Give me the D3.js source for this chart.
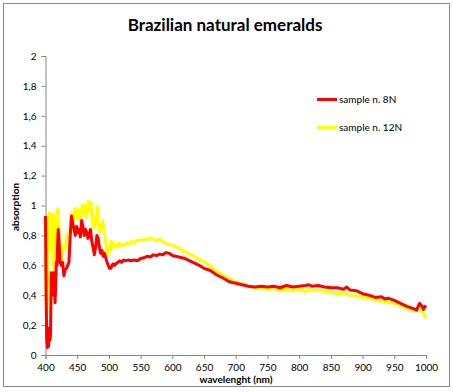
<!DOCTYPE html>
<html lang="en-US">
<head>
  <script src="https://d3js.org/d3.v7.min.js"></script>
  <style>
    body { margin: 0; background: #fff; }
    text { font-family: Lato, "Open Sans", sans-serif; fill: #000; }
  </style>
</head>
<body>

<svg width="453" height="392"></svg>

<script>
// sample n. 8N  [wavelength, absorption]
var red8N = [
  [400,0.93],[401,0.40],[402,0.10],[403,0.05],[405,0.06],[406,0.18],[407,0.10],[408,0.14],
  [409,0.55],[411,0.50],[412,0.40],[413,0.55],[414,0.45],[415,0.35],[416,0.45],[417,0.62],
  [418,0.60],[420,0.84],[421,0.78],[423,0.62],[425,0.60],[427,0.62],[429,0.53],[431,0.57],
  [433,0.58],[435,0.60],[437,0.62],[439,0.80],[441,0.93],[443,0.88],[445,0.84],[447,0.80],
  [449,0.86],[451,0.82],[453,0.84],[455,0.79],[457,0.90],[459,0.86],[461,0.80],[463,0.84],
  [465,0.82],[467,0.78],[469,0.80],[471,0.84],[473,0.76],[475,0.72],[477,0.67],[479,0.72],
  [481,0.80],[483,0.78],[485,0.72],[487,0.68],[489,0.70],[491,0.66],[493,0.68],[495,0.65],
  [497,0.62],[499,0.60],[501,0.58],[503,0.58],[505,0.60],[507,0.61],[509,0.60],[511,0.61],
  [514,0.62],[517,0.63],[520,0.62],[523,0.635],[526,0.63],[530,0.635],[535,0.63],[540,0.635],
  [545,0.63],[550,0.645],[555,0.65],[560,0.66],[565,0.655],[570,0.67],[575,0.665],[580,0.675],
  [585,0.67],[590,0.685],[595,0.68],[600,0.665],[610,0.655],[620,0.645],[630,0.625],[640,0.605],
  [650,0.58],[660,0.565],[670,0.535],[680,0.515],[690,0.49],[700,0.48],[710,0.47],[720,0.46],
  [730,0.455],[740,0.46],[750,0.455],[760,0.46],[770,0.45],[780,0.465],[790,0.455],[800,0.46],
  [810,0.465],[815,0.47],[820,0.46],[830,0.465],[840,0.455],[850,0.45],[860,0.45],[870,0.44],
  [875,0.455],[880,0.435],[890,0.43],[900,0.41],[910,0.40],[920,0.385],[930,0.39],[935,0.375],
  [940,0.38],[950,0.365],[960,0.345],[970,0.325],[980,0.31],[985,0.30],[990,0.345],[993,0.33],
  [996,0.305],[998,0.325],[1000,0.315]
];

// sample n. 12N
var yellow12N = [
  [400,0.67],[401,0.40],[402,0.27],[403,0.45],[404,0.75],[405,0.92],[406,0.95],[407,0.70],
  [408,0.93],[409,0.72],[410,0.94],[411,0.60],[412,0.94],[413,0.70],[414,0.55],[415,0.62],
  [416,0.90],[418,0.95],[420,0.98],[422,0.78],[424,0.70],[426,0.62],[428,0.72],[430,0.74],
  [432,0.72],[434,0.80],[436,0.82],[438,0.78],[440,0.92],[442,0.95],[444,0.90],[446,0.96],
  [448,0.98],[450,0.92],[452,0.97],[454,0.90],[456,0.95],[458,1.00],[460,0.94],[462,1.00],
  [464,0.92],[466,0.98],[468,1.03],[470,0.96],[472,1.02],[474,0.88],[476,0.85],[478,0.92],
  [480,0.88],[482,0.99],[484,0.86],[486,0.82],[488,0.86],[490,0.90],[492,0.84],[494,0.78],
  [496,0.72],[498,0.67],[500,0.68],[502,0.74],[504,0.76],[506,0.72],[508,0.75],[510,0.73],
  [513,0.72],[516,0.75],[519,0.73],[522,0.74],[525,0.735],[528,0.75],[532,0.745],[536,0.76],
  [540,0.75],[545,0.77],[550,0.765],[555,0.775],[560,0.77],[565,0.785],[570,0.775],[575,0.765],
  [580,0.775],[585,0.755],[590,0.745],[600,0.735],[610,0.715],[620,0.69],[630,0.67],[640,0.645],
  [650,0.625],[660,0.595],[670,0.56],[680,0.535],[690,0.51],[700,0.49],[710,0.475],[720,0.46],
  [730,0.45],[740,0.445],[750,0.44],[760,0.445],[770,0.435],[780,0.44],[790,0.43],[800,0.44],
  [810,0.425],[815,0.44],[820,0.43],[830,0.435],[840,0.425],[850,0.42],[860,0.41],[870,0.415],
  [880,0.40],[890,0.395],[900,0.385],[910,0.38],[920,0.37],[930,0.36],[940,0.355],[950,0.345],
  [960,0.33],[970,0.31],[980,0.30],[990,0.30],[995,0.29],[998,0.26],[1000,0.245]
];

var xTicks = [400,450,500,550,600,650,700,750,800,850,900,950,1000];
var yTicks = [0,0.2,0.4,0.6,0.8,1,1.2,1.4,1.6,1.8,2];
var seriesNames = ["sample n. 8N", "sample n. 12N"];
var seriesColors = ["#ff0000", "#ffff00"];

var svg = d3.select("svg");

svg.append("rect")
  .attr("x", 3.5).attr("y", 3.5)
  .attr("width", 446).attr("height", 383)
  .attr("fill", "#fff").attr("stroke", "#898989");

var x = d3.scaleLinear().domain([400, 1000]).range([45.5, 426]);
var y = d3.scaleLinear().domain([0, 2]).range([355, 56]);

var fmt = function(d) { return String(d).replace(".", ","); };

var xAxis = svg.append("g")
  .attr("transform", "translate(0,355)")
  .call(d3.axisBottom(x).tickValues(xTicks).tickSize(4).tickFormat(d3.format("d")));
var yAxis = svg.append("g")
  .attr("transform", "translate(45.5,0)")
  .call(d3.axisLeft(y).tickValues(yTicks).tickSize(4).tickFormat(fmt));

[xAxis, yAxis].forEach(function(ax) {
  ax.select(".domain").attr("stroke", "#868686");
  ax.selectAll(".tick line").attr("stroke", "#868686");
  ax.selectAll(".tick text").attr("font-size", 10).attr("font-family", "Lato, sans-serif").attr("fill", "#000");
});
xAxis.selectAll(".tick text").attr("dy", "0.9em");
yAxis.selectAll(".tick text").attr("x", -9);

var line = d3.line().x(function(d) { return x(d[0]); }).y(function(d) { return y(d[1]); });

svg.append("path").datum(yellow12N)
  .attr("fill", "none").attr("stroke", seriesColors[1]).attr("stroke-width", 3)
  .attr("stroke-linejoin", "round").attr("d", line);
svg.append("path").datum(red8N)
  .attr("fill", "none").attr("stroke", seriesColors[0]).attr("stroke-width", 3)
  .attr("stroke-linejoin", "round").attr("d", line);

// title and axis titles
svg.append("text").attr("x", 225).attr("y", 31).attr("text-anchor", "middle")
  .attr("font-size", 17).attr("font-weight", "bold").text("Brazilian natural emeralds");
svg.append("text").attr("x", 236).attr("y", 383).attr("text-anchor", "middle")
  .attr("font-size", 10).attr("font-weight", "bold").text("wavelenght (nm)");
svg.append("text").attr("transform", "translate(19,207) rotate(-90)").attr("text-anchor", "middle")
  .attr("font-size", 10).attr("font-weight", "bold").text("absorption");

// legend
var legend = svg.selectAll(".legend").data(seriesNames).enter().append("g")
  .attr("transform", function(d, i) { return "translate(317," + (99.5 + i * 28) + ")"; });
legend.append("line").attr("x1", 0).attr("x2", 20)
  .attr("stroke", function(d, i) { return seriesColors[i]; }).attr("stroke-width", 3);
legend.append("text").attr("x", 22).attr("y", 3.5).attr("font-size", 10).text(function(d) { return d; });
</script>
</body>
</html>
